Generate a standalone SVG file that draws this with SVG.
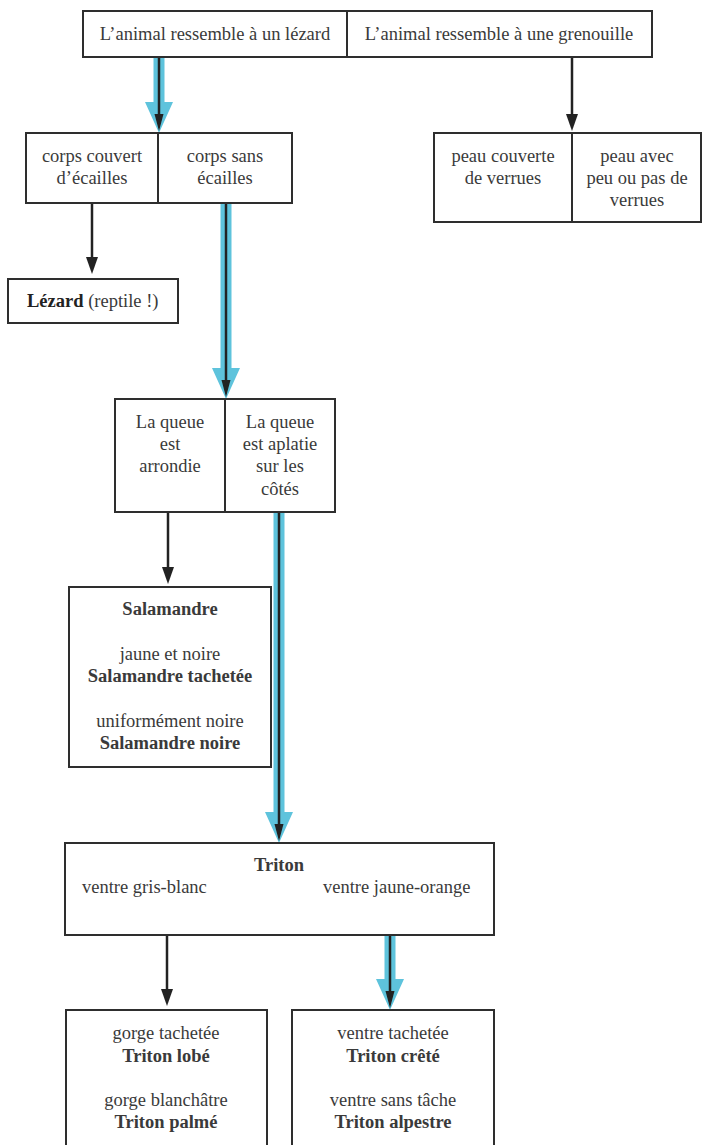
<svg xmlns="http://www.w3.org/2000/svg" width="702" height="1145" viewBox="0 0 702 1145">
<defs>
<style>
.box{fill:#fff;stroke:#2e2e2e;stroke-width:2}
.div{stroke:#2e2e2e;stroke-width:2}
.t text{font-size:18.5px;fill:#3a3a3a}
.c{text-anchor:middle}
.b{font-weight:bold;fill:#222}
.bl{fill:#5ec3dc}
.ln{stroke:#222;stroke-width:2.5;fill:none}
.hd{fill:#222}
</style>
</defs>
<rect width="702" height="1145" fill="#fff"/>
<g id="connectors">
<polygon class="bl" points="153.5,57 164.5,57 164.5,102 173,102 159,133 145,102 153.5,102"/>
<line class="ln" x1="159" y1="57" x2="159" y2="118"/>
<polygon class="hd" points="154.5,114 163.5,114 159,131"/>
<line class="ln" x1="572" y1="57" x2="572" y2="116"/>
<polygon class="hd" points="566,114 578,114 572,131"/>
<line class="ln" x1="92" y1="203" x2="92" y2="259"/>
<polygon class="hd" points="86,257 98,257 92,274"/>
<polygon class="bl" points="220.5,203 231.5,203 231.5,368 240,368 226,399 212,368 220.5,368"/>
<line class="ln" x1="226" y1="203" x2="226" y2="384"/>
<polygon class="hd" points="221.5,380 230.5,380 226,397"/>
<line class="ln" x1="168" y1="512" x2="168" y2="569"/>
<polygon class="hd" points="162,567 174,567 168,584"/>
<polygon class="bl" points="273.5,512 284.5,512 284.5,812 293,812 279,843 265,812 273.5,812"/>
<line class="ln" x1="279" y1="512" x2="279" y2="828"/>
<polygon class="hd" points="274.5,824 283.5,824 279,841"/>
<line class="ln" x1="167" y1="935" x2="167" y2="991"/>
<polygon class="hd" points="161,989 173,989 167,1006"/>
<polygon class="bl" points="384.5,935 395.5,935 395.5,979 404,979 390,1010 376,979 384.5,979"/>
<line class="ln" x1="390" y1="935" x2="390" y2="995"/>
<polygon class="hd" points="385.5,991 394.5,991 390,1008"/>
</g>
<g class="t" font-family="Liberation Serif, Times New Roman, serif">
<g id="n-top">
<rect class="box" x="83" y="11" width="569" height="46"/>
<line class="div" x1="347" y1="11" x2="347" y2="57"/>
<text class="c" x="215" y="40">L’animal ressemble à un lézard</text>
<text class="c" x="499" y="40">L’animal ressemble à une grenouille</text>
</g>
<g id="n-corps">
<rect class="box" x="26" y="133" width="266" height="70"/>
<line class="div" x1="158" y1="133" x2="158" y2="203"/>
<text class="c" x="92" y="162">corps couvert</text>
<text class="c" x="92" y="184">d’écailles</text>
<text class="c" x="225" y="162">corps sans</text>
<text class="c" x="225" y="184">écailles</text>
</g>
<g id="n-peau">
<rect class="box" x="434" y="133" width="267" height="89"/>
<line class="div" x1="572" y1="133" x2="572" y2="222"/>
<text class="c" x="503" y="162">peau couverte</text>
<text class="c" x="503" y="184">de verrues</text>
<text class="c" x="637" y="162">peau avec</text>
<text class="c" x="637" y="184">peu ou pas de</text>
<text class="c" x="637" y="206">verrues</text>
</g>
<g id="n-lezard">
<rect class="box" x="8" y="279" width="170" height="44"/>
<text x="27" y="307"><tspan class="b">Lézard</tspan> (reptile !)</text>
</g>
<g id="n-queue">
<rect class="box" x="115" y="399" width="220" height="113"/>
<line class="div" x1="225" y1="399" x2="225" y2="512"/>
<text class="c" x="170" y="428">La queue</text>
<text class="c" x="170" y="450">est</text>
<text class="c" x="170" y="472">arrondie</text>
<text class="c" x="280" y="428">La queue</text>
<text class="c" x="280" y="450">est aplatie</text>
<text class="c" x="280" y="472">sur les</text>
<text class="c" x="280" y="495">côtés</text>
</g>
<g id="n-salamandre">
<rect class="box" x="69" y="587" width="202" height="180"/>
<text class="c b" x="170" y="615">Salamandre</text>
<text class="c" x="170" y="660">jaune et noire</text>
<text class="c b" x="170" y="682">Salamandre tachetée</text>
<text class="c" x="170" y="727">uniformément noire</text>
<text class="c b" x="170" y="749">Salamandre noire</text>
</g>
<g id="n-triton">
<rect class="box" x="65" y="843" width="429" height="92"/>
<text class="c b" x="279" y="871">Triton</text>
<text x="82" y="893">ventre gris-blanc</text>
<text x="323" y="893">ventre jaune-orange</text>
</g>
<g id="n-gorge">
<rect class="box" x="66" y="1010" width="201" height="150"/>
<text class="c" x="166" y="1039">gorge tachetée</text>
<text class="c b" x="166" y="1062">Triton lobé</text>
<text class="c" x="166" y="1106">gorge blanchâtre</text>
<text class="c b" x="166" y="1128">Triton palmé</text>
</g>
<g id="n-ventre">
<rect class="box" x="292" y="1010" width="202" height="150"/>
<text class="c" x="393" y="1039">ventre tachetée</text>
<text class="c b" x="393" y="1062">Triton crêté</text>
<text class="c" x="393" y="1106">ventre sans tâche</text>
<text class="c b" x="393" y="1128">Triton alpestre</text>
</g>
</g>
</svg>
